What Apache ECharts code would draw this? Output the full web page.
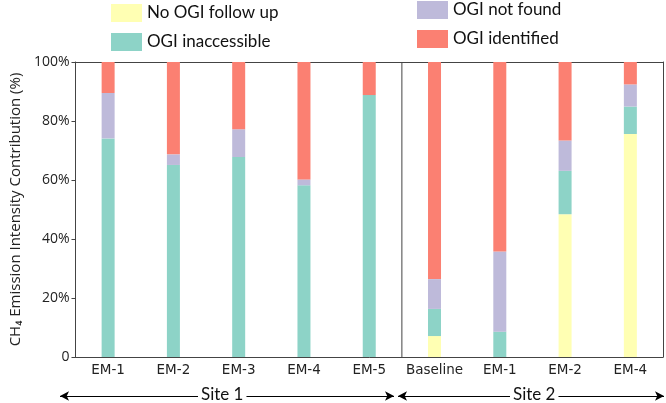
<!DOCTYPE html>
<html><head><meta charset="utf-8">
<script src="https://cdn.jsdelivr.net/npm/echarts@6/dist/echarts.min.js"></script>
<style>html,body{margin:0;padding:0;background:#fff}#c{width:666px;height:403px}</style>
</head><body><div id="c"></div>
<script>
const categories = ['EM-1','EM-2','EM-3','EM-4','EM-5','Baseline','EM-1 ','EM-2 ','EM-4 '];
const noFollowUp   = [0, 0, 0, 0, 0, 7.1, 0, 48.4, 75.6];
const inaccessible = [74.1, 65.1, 67.8, 58.2, 88.8, 9.2, 8.6, 14.7, 9.3];
const notFound     = [15.4, 3.6, 9.4, 2.0, 0, 10.1, 27.2, 10.3, 7.5];
const identified   = [10.5, 31.3, 22.8, 39.8, 11.2, 73.6, 64.2, 26.6, 7.6];
const yTicks = ['0','20%','40%','60%','80%','100%'];
const siteNames = ['Site 1','Site 2'];
const siteDivider = 5;

const chart = echarts.init(document.getElementById('c'));
const colors = {y:'#ffffb3', t:'#8dd3c7', p:'#bebada', r:'#fb8072'};
function bar(name, data, color){
  return {name, type:'bar', stack:'s', data, barWidth:13, itemStyle:{color}, emphasis:{disabled:true}};
}
const legendBase = {orient:'vertical', itemWidth:31, itemHeight:18, itemGap:11,
  textStyle:{fontFamily:'Lato', fontSize:17, color:'#111'}, icon:'rect', selectedMode:false};
chart.setOption({
  animation:false,
  grid:{left:63, right:3, top:62, bottom:46},
  legend:[
    Object.assign({}, legendBase, {left:106, top:-1, data:['No OGI follow up','OGI inaccessible']}),
    Object.assign({}, legendBase, {left:412, top:-4, data:['OGI not found','OGI identified']})
  ],
  xAxis:[
    {type:'category', data:categories,
     axisLine:{lineStyle:{color:'#444'}},
     axisTick:{alignWithLabel:true, interval:0, length:4, lineStyle:{color:'#444'}},
     axisLabel:{interval:0, fontFamily:'DejaVu Sans', fontSize:13.5, color:'#222', margin:6,
       formatter: v => v.trim()}},
    {type:'value', min:0, max:categories.length, show:false},
    {type:'category', position:'top', data:categories, axisLine:{lineStyle:{color:'#444'}},
     axisTick:{show:false}, axisLabel:{show:false}}
  ],
  yAxis:[
    {type:'value', min:0, max:100, interval:20,
     name:'CH\u2084 Emission Intensity Contribution (%)', nameLocation:'middle', nameGap:46,
     nameTextStyle:{fontFamily:'Open Sans', fontSize:15, color:'#222'},
     axisLine:{show:true, lineStyle:{color:'#444'}},
     axisTick:{show:true, length:4, lineStyle:{color:'#444'}},
     splitLine:{show:false},
     axisLabel:{fontFamily:'Open Sans', fontSize:14, color:'#222', margin:6,
       formatter: v => yTicks[Math.round(v/20)]}},
    {type:'value', min:0, max:100, position:'right', axisLine:{show:true, lineStyle:{color:'#444'}},
     axisTick:{show:false}, axisLabel:{show:false}, splitLine:{show:false}}
  ],
  series:[
    bar('No OGI follow up', noFollowUp, colors.y),
    bar('OGI inaccessible', inaccessible, colors.t),
    bar('OGI not found', notFound, colors.p),
    bar('OGI identified', identified, colors.r),
    {type:'line', xAxisIndex:1, data:[[siteDivider,0],[siteDivider,100]], symbol:'none',
     lineStyle:{color:'#444', width:1}, silent:true},
    {type:'line', data:[], silent:true,
     markLine:{silent:true, symbol:['arrow','arrow'], symbolSize:[7,9], label:{show:false},
       lineStyle:{color:'#000', width:1.2, type:'solid'},
       data:[
         [{x:60, y:396},{x:394, y:396}],
         [{x:398, y:396},{x:664, y:396}]
       ]}}
  ],
  graphic:[
    {type:'text', left:198, top:386, z:100, style:{text:siteNames[0], fontFamily:'Lato', fontSize:17, fill:'#111', backgroundColor:'#fff', padding:[0,3]}},
    {type:'text', left:510, top:386, z:100, style:{text:siteNames[1], fontFamily:'Lato', fontSize:17, fill:'#111', backgroundColor:'#fff', padding:[0,3]}}
  ]
});
</script></body></html>
